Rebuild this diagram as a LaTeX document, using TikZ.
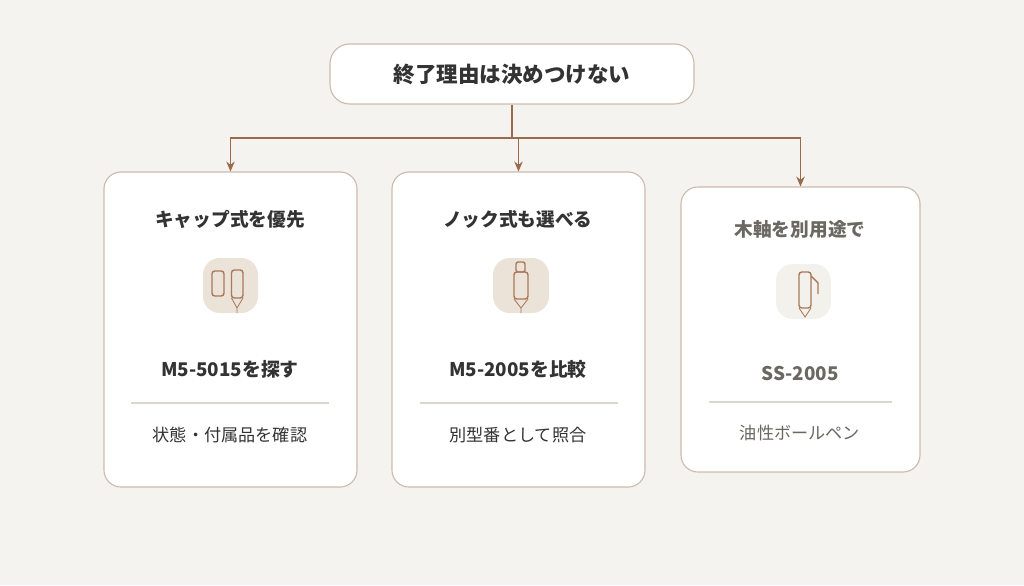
\documentclass[tikz,border=0pt]{standalone}
\usepackage{fontspec}
\setmainfont{Noto Sans CJK JP}
\usetikzlibrary{arrows.meta}
\definecolor{xbg}{HTML}{F5F3EF}
\definecolor{xline}{HTML}{CDBBAC}
\definecolor{xarrow}{HTML}{9A6B4B}
\definecolor{xtext}{HTML}{333333}
\definecolor{xgrey}{HTML}{6B6862}
\definecolor{xicon}{HTML}{EBE2D8}
\definecolor{xiconlt}{HTML}{F3F1EC}
\definecolor{xpen}{HTML}{A9795A}
\definecolor{xrule}{HTML}{DDD6CE}
\tikzset{
  card/.style={draw=xline, fill=white, rounded corners=12, line width=0.8pt},
  ttl/.style={font=\bfseries\fontsize{13.3}{15}\selectfont, text=xtext},
  model/.style={font=\bfseries\fontsize{13.4}{16}\selectfont, text=xtext},
  note/.style={font=\fontsize{12.2}{14}\selectfont, text=xtext},
  link/.style={draw=xarrow, line width=0.9pt},
  pen/.style={draw=xpen, line width=1pt, rounded corners=2},
}
\begin{document}
\begin{tikzpicture}[x=0.025cm, y=-0.025cm]
\fill[xbg] (0,0) rectangle (1024,585);
% top
\node[draw=xline, fill=white, rounded corners=14, line width=0.8pt, minimum width=364*0.025cm, minimum height=60*0.025cm,
  font=\bfseries\fontsize{15.3}{17}\selectfont, text=xtext] (top) at (512,74) {終了理由は決めつけない};
% cards
\node[card, minimum width=253*0.025cm, minimum height=315*0.025cm] (c1) at (230.5,329.5) {};
\node[card, minimum width=253*0.025cm, minimum height=315*0.025cm] (c2) at (518.5,329.5) {};
\node[card, minimum width=239*0.025cm, minimum height=285*0.025cm] (c3) at (800.5,329.5) {};
\coordinate (j) at (512,138);
\draw[link] (top.south) -- (j);
\foreach \c in {c1,c2,c3}
  \draw[link, -{Stealth[length=7pt,width=6pt]}] (j) -| (\c.north);
% card 1
\node[ttl] (t1) at (230,219) {キャップ式を優先};
\fill[xicon, rounded corners=12] (203,258) rectangle (258,313);
\draw[pen] (212,271) rectangle (224,296);
\draw[pen] (231.5,270) rectangle (243,298);
\draw[xpen, line width=0.6pt] (231.5,298) -- (237,308) -- (243,298) (237,308) -- (237,313);
\node[model] (m1) at (230,369) {M5-5015を探す};
\draw[xrule, line width=0.8pt] (131,403) -- (329,403);
\node[note] (n1) at (230,435) {状態・付属品を確認};
% card 2
\node[ttl] (t2) at (518,219) {ノック式も選べる};
\fill[xicon, rounded corners=12] (493,258) rectangle (549,313);
\draw[pen, rounded corners=1.5] (516,262) rectangle (525,272);
\draw[pen] (514,272) rectangle (528,299);
\draw[xpen, line width=0.6pt] (514,299) -- (521,308) -- (528,299) (521,308) -- (521,313);
\node[model] (m2) at (518,369) {M5-2005を比較};
\draw[xrule, line width=0.8pt] (420,403) -- (618,403);
\node[note] (n2) at (518,435) {別型番として照合};
% card 3
\node[ttl, text=xgrey] (t3) at (800,229) {木軸を別用途で};
\fill[xiconlt, rounded corners=12] (776,264) rectangle (831,319);
\draw[pen] (799,272) rectangle (811,308);
\draw[xpen, line width=1pt] (811,276) -- (818,283) -- (818,294);
\draw[xpen, line width=0.6pt] (799,308) -- (805,317) -- (811,308);
\node[model, text=xgrey] (m3) at (800,373) {SS-2005};
\draw[xrule, line width=0.8pt] (709,402) -- (892,402);
\node[note, text=xgrey] (n3) at (800,433) {油性ボールペン};
\end{tikzpicture}
\end{document}
